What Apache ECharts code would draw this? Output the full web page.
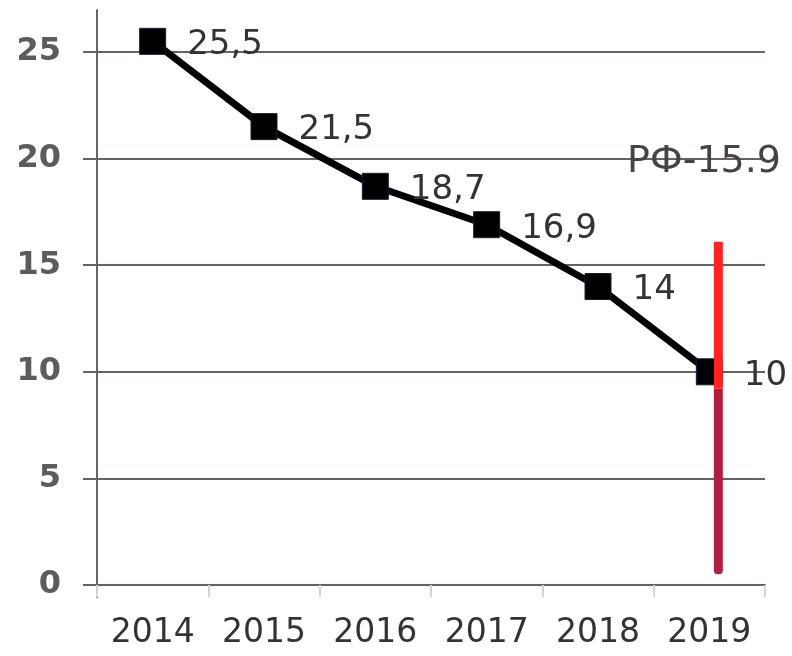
<!DOCTYPE html>
<html>
<head>
<meta charset="utf-8">
<script src="https://cdn.jsdelivr.net/npm/echarts@6/dist/echarts.min.js"></script>
<style>
  html, body { margin: 0; padding: 0; background: #fff; }
  #chart { width: 792px; height: 656px; }
</style>
</head>
<body>
<div id="chart"></div>
<script>
// Years on the category axis
const years = ['2014', '2015', '2016', '2017', '2018', '2019'];
// Regional values, one per year
const values = [25.5, 21.5, 18.7, 16.9, 14, 10];
// Value labels as printed (decimal comma)
const valueLabels = ['25,5', '21,5', '18,7', '16,9', '14', '10'];
// Y axis ticks
const yMin = 0, yMax = 25, yStep = 5;
// Federal reference bar in 2019: bottom, colour change, top
const refYear = '2019';
const refBottom = 0.5, refSplit = 9.2, refTop = 16.1;
const refText = 'РФ-15.9';

const chart = echarts.init(document.getElementById('chart'), null, { renderer: 'canvas' });
const gridColor = '#6a5f66';
const font = 'DejaVu Sans';

chart.setOption({
  animation: false,
  title: {
    text: refText,
    right: 6, top: 138,
    textStyle: { fontFamily: font, fontSize: 38, fontWeight: 'normal', color: '#444' }
  },
  grid: [
    { left: 97, right: 27, top: 52, bottom: 71 },
    { left: 97, right: 27, top: 10, bottom: 59 }
  ],
  xAxis: [
    {
      type: 'category', data: years, gridIndex: 0, boundaryGap: true,
      axisLine: { lineStyle: { color: gridColor, width: 2 } },
      axisTick: { show: true, interval: 0, length: 12, lineStyle: { color: '#d4d4d4', width: 2 } },
      axisLabel: { interval: 0, fontFamily: font, fontSize: 33, color: '#333', margin: 32 }
    },
    { type: 'category', data: years, gridIndex: 1, show: false }
  ],
  yAxis: [
    {
      type: 'value', gridIndex: 0, min: yMin, max: yMax, interval: yStep,
      axisLine: { show: false },
      axisTick: { show: true, length: 14, lineStyle: { color: gridColor, width: 2 } },
      splitLine: { lineStyle: { color: gridColor, width: 2 } },
      axisLabel: { fontFamily: font, fontSize: 32, fontWeight: 'bold', color: '#5c5c5c', margin: 36 }
    },
    {
      type: 'value', gridIndex: 1, min: 0, max: 1,
      axisLine: { show: true, lineStyle: { color: '#666', width: 2 } },
      axisTick: { show: false }, axisLabel: { show: false }, splitLine: { show: false }
    }
  ],
  series: [
    {
      type: 'line', data: values, xAxisIndex: 0, yAxisIndex: 0,
      clip: false,
      symbol: 'rect', symbolSize: 26,
      lineStyle: { color: '#000', width: 7 },
      itemStyle: { color: '#000', borderColor: '#1a1a40', borderWidth: 1 },
      label: {
        show: true, position: 'right', distance: 21, offset: [0, 4],
        fontFamily: font, fontSize: 34, color: '#333',
        formatter: p => valueLabels[p.dataIndex]
      },
      z: 3
    },
    {
      type: 'custom', xAxisIndex: 0, yAxisIndex: 0, z: 4, clip: false,
      data: [[years.indexOf(refYear), refBottom, refSplit, refTop]],
      renderItem: function (params, api) {
        const x = api.coord([api.value(0), 0])[0] + 9;
        const yb = api.coord([api.value(0), api.value(1)])[1];
        const ys = api.coord([api.value(0), api.value(2)])[1];
        const yt = api.coord([api.value(0), api.value(3)])[1];
        const w = 9;
        return {
          type: 'group',
          children: [
            { type: 'rect', shape: { x: x - w / 2, y: ys, width: w, height: yb - ys, r: [0, 0, 4, 4] },
              style: { fill: '#b21e3e' } },
            { type: 'rect', shape: { x: x - w / 2, y: yt, width: w, height: ys - yt },
              style: { fill: '#ff2222' } }
          ]
        };
      }
    }
  ]
});
</script>
</body>
</html>
